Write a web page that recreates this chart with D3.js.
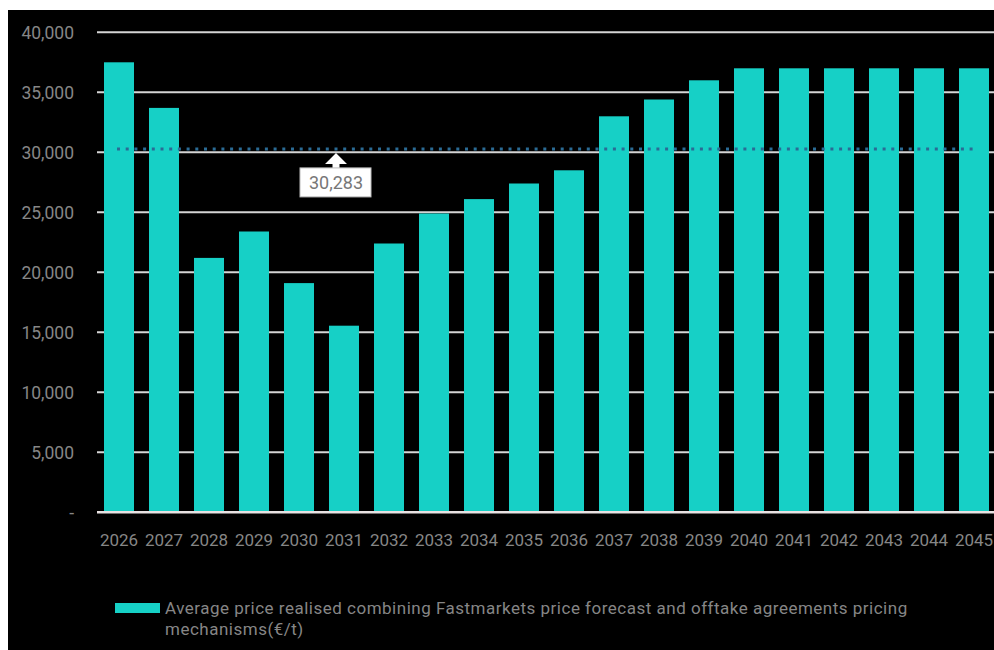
<!DOCTYPE html>
<html>
<head>
<meta charset="utf-8">
<script src="https://cdn.jsdelivr.net/npm/d3@7"></script>
<style>
  html, body { margin: 0; padding: 0; background: #ffffff; }
  svg { display: block; }
  text { font-family: Roboto, "DejaVu Sans", sans-serif; }
</style>
</head>
<body>
<svg id="chart" width="994" height="650"></svg>
<script>
// ---- data ----
const years = ["2026","2027","2028","2029","2030","2031","2032","2033","2034","2035",
               "2036","2037","2038","2039","2040","2041","2042","2043","2044","2045"];
const prices = [37500, 33700, 21200, 23400, 19100, 15550, 22400, 24900, 26100, 27400,
                28500, 33000, 34400, 36000, 37000, 37000, 37000, 37000, 37000, 37000];
const yTicks = [0, 5000, 10000, 15000, 20000, 25000, 30000, 35000, 40000];
const averageValue = 30283;
const averageLabel = "30,283";
const legendLines = ["Average price realised combining Fastmarkets price forecast and offtake agreements pricing",
                     "mechanisms(€/t)"];

// ---- layout ----
const W = 994, H = 650;
const svg = d3.select("#chart");
const teal = "#16d0c6";
const textGray = "#868686";

svg.append("rect").attr("x", 8).attr("y", 10).attr("width", W - 8).attr("height", H - 10).attr("fill", "#000");

const x = d3.scaleBand().domain(years).range([96.5, 996.5]).paddingInner(1/3).paddingOuter(1/6);
const y = d3.scaleLinear().domain([0, 40000]).range([512.3, 32.3]);

// gridlines
svg.append("g").selectAll("line").data(yTicks.filter(d => d > 0)).join("line")
  .attr("x1", 97).attr("x2", W)
  .attr("y1", d => y(d)).attr("y2", d => y(d))
  .attr("stroke", "#d4d4d4").attr("stroke-width", 2);

// y labels
svg.append("g").selectAll("text").data(yTicks).join("text")
  .attr("x", 74).attr("y", d => y(d)).attr("dy", "0.36em")
  .attr("text-anchor", "end")
  .attr("fill", textGray).attr("font-size", 17.5)
  .text(d => d === 0 ? "-" : d3.format(",")(d));

// bars
svg.append("g").selectAll("rect").data(years).join("rect")
  .attr("x", d => x(d)).attr("width", x.bandwidth())
  .attr("y", (d, i) => y(prices[i]))
  .attr("height", (d, i) => y(0) - y(prices[i]))
  .attr("fill", teal);

// baseline
svg.append("line").attr("x1", 97).attr("x2", W).attr("y1", y(0)).attr("y2", y(0))
  .attr("stroke", "#e8e2e2").attr("stroke-width", 2.5);

// x labels
svg.append("g").selectAll("text").data(years).join("text")
  .attr("x", d => x(d) + x.bandwidth() / 2).attr("y", 546)
  .attr("text-anchor", "middle")
  .attr("fill", textGray).attr("font-size", 17)
  .text(d => d);

// average dotted line
svg.append("line")
  .attr("x1", x(years[0]) + x.bandwidth() / 2 - 2)
  .attr("x2", x(years[years.length - 1]) + x.bandwidth() / 2)
  .attr("y1", y(averageValue)).attr("y2", y(averageValue))
  .attr("stroke", "#2a6b95").attr("stroke-width", 3)
  .attr("stroke-dasharray", "3,5.7");

// annotation callout
const ax = x("2031") + 7;
const tipY = y(averageValue) + 4;
const ann = svg.append("g");
ann.append("path")
  .attr("d", `M${ax},${tipY} L${ax + 11},${tipY + 11} L${ax + 3.5},${tipY + 11} L${ax + 3.5},${tipY + 16} L${ax - 3.5},${tipY + 16} L${ax - 3.5},${tipY + 11} L${ax - 11},${tipY + 11} Z`)
  .attr("fill", "#fff");
ann.append("rect").attr("x", ax - 36).attr("y", tipY + 15).attr("width", 71).attr("height", 29)
  .attr("fill", "#fff").attr("stroke", "#bbb").attr("stroke-width", 1);
ann.append("text").attr("x", ax).attr("y", tipY + 36).attr("text-anchor", "middle")
  .attr("fill", "#777").attr("font-size", 18).text(averageLabel);

// legend
const lg = svg.append("g");
lg.append("rect").attr("x", 115).attr("y", 603).attr("width", 45).attr("height", 10).attr("fill", teal);
lg.selectAll("text").data(legendLines).join("text")
  .attr("x", 165).attr("y", (d, i) => 614 + i * 21)
  .attr("fill", textGray).attr("font-size", 17).attr("letter-spacing", 0.5)
  .text(d => d);
</script>
</body>
</html>
